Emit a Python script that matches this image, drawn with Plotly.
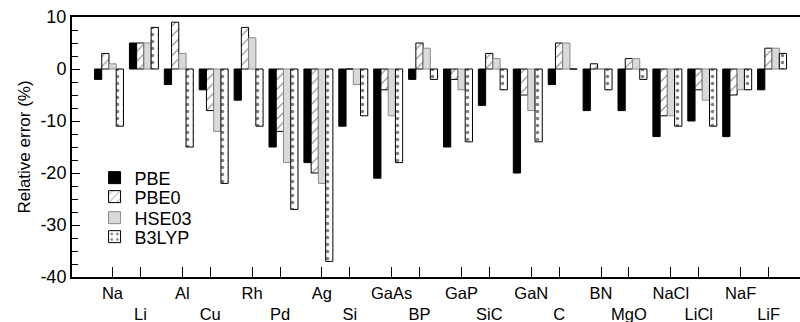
import plotly.graph_objects as go

categories = ["Na", "Li", "Al", "Cu", "Rh", "Pd", "Ag", "Si", "GaAs", "BP",
              "GaP", "SiC", "GaN", "C", "BN", "MgO", "NaCl", "LiCl", "NaF", "LiF"]
PBE = [-2, 5, -3, -4, -6, -15, -18, -11, -21, -2, -15, -7, -20, -3, -8, -8, -13, -10, -13, -4]
PBE0 = [3, 5, 9, -8, 8, -12, -20, 0, -4, 5, -2, 3, -5, 5, 1, 2, -9, -4, -5, 4]
HSE03 = [1, 5, 3, -12, 6, -18, -22, -3, -9, 4, -4, 2, -8, 5, 0, 2, -9, -6, -4, 4]
B3LYP = [-11, 8, -15, -22, -11, -27, -37, -9, -18, -2, -14, -4, -14, 0, -4, -2, -11, -11, -4, 3]
y_ticks = [-40, -30, -20, -10, 0, 10]

x = list(range(len(categories)))
tickvals = [i + (0.1 if i % 2 == 0 else -0.1) for i in x]
ticktext = [c if i % 2 == 0 else "<br>" + c for i, c in enumerate(categories)]

FONT = "Liberation Sans, Arial, Helvetica, sans-serif"

fig = go.Figure()
fig.add_trace(go.Bar(name="PBE", x=x, y=PBE, legend="legend",
                     marker=dict(color="black", line=dict(color="black", width=1))))
fig.add_trace(go.Bar(name="PBE0", x=x, y=PBE0, legend="legend2",
                     marker=dict(color="white", line=dict(color="black", width=1),
                                 pattern=dict(shape="/", fgcolor="black", bgcolor="white",
                                              size=7, solidity=0.15))))
fig.add_trace(go.Bar(name="HSE03", x=x, y=HSE03, legend="legend3",
                     marker=dict(color="#d9d9d9", line=dict(color="#8a8a8a", width=1))))
fig.add_trace(go.Bar(name="B3LYP", x=x, y=B3LYP, legend="legend4",
                     marker=dict(color="white", line=dict(color="black", width=1),
                                 pattern=dict(shape=".", fgcolor="black", bgcolor="white",
                                              size=7, solidity=0.2))))

def leg(yc):
    return dict(x=0.031, y=yc, xanchor="left", yanchor="middle",
                bgcolor="rgba(0,0,0,0)", font=dict(size=18), itemwidth=30)

fig.update_layout(
    width=800, height=322,
    margin=dict(l=72, r=0, t=17, b=45),
    paper_bgcolor="white", plot_bgcolor="white",
    barmode="group", bargap=0.17, bargroupgap=0,
    font=dict(family=FONT, size=16, color="black"),
    showlegend=True,
    legend=leg(0.381), legend2=leg(0.308), legend3=leg(0.227), legend4=leg(0.154),
    xaxis=dict(range=[-1.06, 19.8], tickmode="array", tickvals=tickvals,
               ticktext=ticktext, tickangle=0, ticks="inside", ticklen=10, tickwidth=1,
               tickcolor="black", showline=True, linewidth=2, linecolor="black",
               mirror=True, showgrid=False, zeroline=False, automargin=False,
               tickfont=dict(size=16.5)),
    yaxis=dict(range=[-40, 10], tickmode="array", tickvals=y_ticks,
               ticktext=[str(v) for v in y_ticks],
               ticks="inside", ticklen=8, tickwidth=1, tickcolor="black",
               minor=dict(dtick=2.5, ticks="inside", ticklen=6, tickwidth=1,
                          tickcolor="black"),
               showline=True, linewidth=2, linecolor="black", automargin=False,
               showgrid=False, zeroline=False, tickfont=dict(size=18),
               title=dict(text="Relative error (%)", font=dict(size=17), standoff=5)),
)

fig.write_html("out.html")
